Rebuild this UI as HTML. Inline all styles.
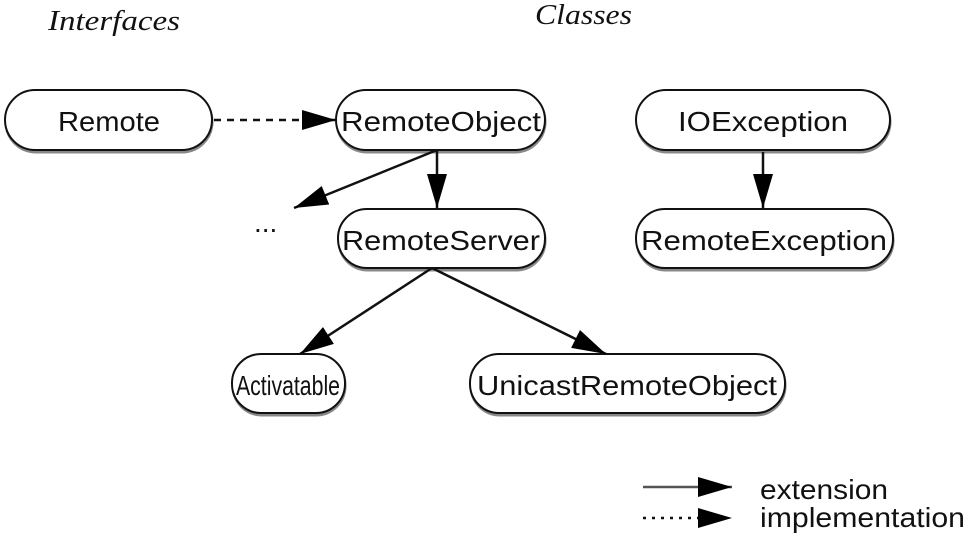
<!DOCTYPE html>
<html><head><style>
body{margin:0;background:#fff;}
svg{display:block;}
text{font-family:"Liberation Sans",sans-serif;font-size:28px;fill:#111;}
.h{font-family:"Liberation Serif",serif;font-style:italic;font-size:28px;}
</style></head><body>
<svg width="975" height="534" viewBox="0 0 975 534">
<defs><marker id="a" markerWidth="36" markerHeight="22" refX="34" refY="11" orient="auto" markerUnits="userSpaceOnUse"><path d="M0,1 L34,11 L0,21 Z" fill="#000"/></marker></defs>
<text class="h" x="48" y="30" textLength="132" lengthAdjust="spacingAndGlyphs">Interfaces</text>
<text class="h" x="535" y="24" textLength="97" lengthAdjust="spacingAndGlyphs">Classes</text>
<g fill="#fff" stroke="#111" stroke-width="2">
<g stroke="#888" stroke-width="3" fill="none">
<rect x="6" y="92" width="206" height="60" rx="30"/>
<rect x="337" y="92" width="208" height="60" rx="30"/>
<rect x="637" y="92" width="253" height="60" rx="30"/>
<rect x="339" y="211" width="206" height="59" rx="29"/>
<rect x="637" y="211" width="256" height="59" rx="29"/>
<rect x="233" y="356" width="112" height="59" rx="29"/>
<rect x="471" y="356" width="314" height="59" rx="29"/>
</g>
<rect x="5" y="90" width="207" height="60" rx="30"/>
<rect x="336" y="90" width="209" height="60" rx="30"/>
<rect x="636" y="90" width="254" height="60" rx="30"/>
<rect x="338" y="209" width="207" height="59" rx="29"/>
<rect x="636" y="209" width="257" height="59" rx="29"/>
<rect x="232" y="354" width="113" height="59" rx="29"/>
<rect x="470" y="354" width="315" height="59" rx="29"/>
</g>
<g text-anchor="middle">
<text x="109" y="131" textLength="102" lengthAdjust="spacingAndGlyphs">Remote</text>
<text x="441" y="131" textLength="200" lengthAdjust="spacingAndGlyphs">RemoteObject</text>
<text x="763" y="131" textLength="170" lengthAdjust="spacingAndGlyphs">IOException</text>
<text x="441" y="250" textLength="198" lengthAdjust="spacingAndGlyphs">RemoteServer</text>
<text x="764" y="250" textLength="246" lengthAdjust="spacingAndGlyphs">RemoteException</text>
<text x="288" y="395" textLength="104" lengthAdjust="spacingAndGlyphs">Activatable</text>
<text x="627" y="395" textLength="300" lengthAdjust="spacingAndGlyphs">UnicastRemoteObject</text>
</g>
<text x="254" y="232" font-size="16">...</text>
<g stroke="#111" stroke-width="2.5" fill="none">
<line x1="214" y1="120" x2="336" y2="120" stroke-dasharray="7,6" marker-end="url(#a)"/>
<line x1="437" y1="150" x2="437" y2="208" marker-end="url(#a)"/>
<line x1="437" y1="150" x2="294" y2="208" marker-end="url(#a)"/>
<line x1="763" y1="152" x2="763" y2="208" marker-end="url(#a)"/>
<line x1="432" y1="268" x2="300" y2="354" marker-end="url(#a)"/>
<line x1="432" y1="268" x2="606" y2="354" marker-end="url(#a)"/>
<line x1="643" y1="487" x2="732" y2="487" stroke="#555" marker-end="url(#a)"/>
<line x1="643" y1="518" x2="732" y2="518" stroke-dasharray="3,6" marker-end="url(#a)"/>
</g>
<text x="760" y="499" textLength="128" lengthAdjust="spacingAndGlyphs">extension</text>
<text x="760" y="527" textLength="205" lengthAdjust="spacingAndGlyphs">implementation</text>
</svg>
</body></html>
